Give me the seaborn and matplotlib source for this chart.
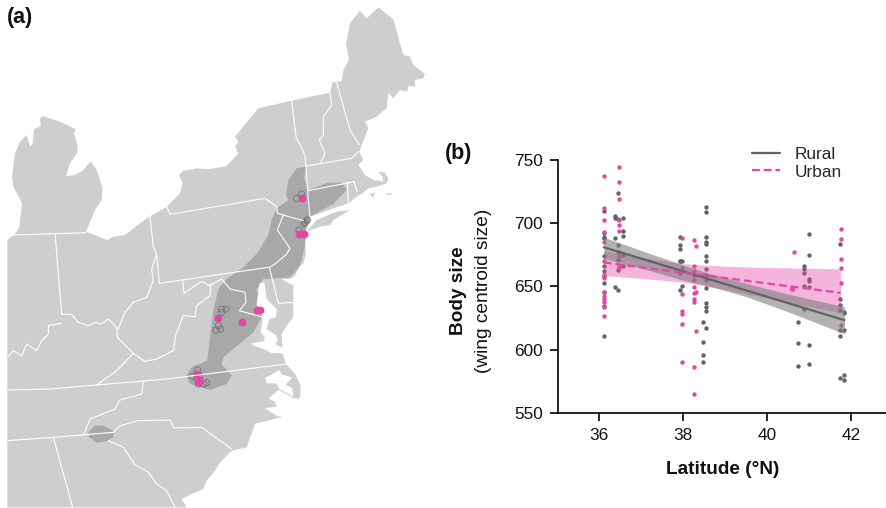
import matplotlib
matplotlib.use('Agg')
import matplotlib.pyplot as plt
import pandas as pd
import seaborn as sns

# scatter values, one list per group of sites
rural_lat = [36.11] * 12 + [36.37] * 4 + [36.44] * 7 + [36.56] * 5 + [37.93] * 7 + [37.98] * 2 + [38.48] * 4 + [38.54] * 15 \
    + [40.73] * 3 + [40.87] * 5 + [41.0] * 7 + [41.73] * 7 + [41.84] * 5
rural_size = [709.5, 692, 689.5, 688, 674, 666, 662.6, 658, 652.6, 645.5, 634.7, 611,
              706, 704, 688, 649.5,
              723.7, 703, 683, 677.6, 671, 663, 647,
              704.5, 694, 690, 675, 666,
              689.5, 683, 680, 670, 670, 660.5, 647,
              670, 650.5,
              621.6, 606, 596, 590.5,
              713, 708.7, 689, 685, 683.7, 674, 670, 664, 658.7, 655, 648.7, 637, 634, 631, 617.5,
              621.6, 605, 587,
              666, 663.7, 661, 650, 632.4,
              691.6, 675, 656, 654, 649.5, 603.5, 589,
              683.4, 640.5, 635, 631.6, 616, 611, 578,
              630, 629, 616, 580, 576]

urban_lat = [36.11] * 14 + [36.48] * 10 + [37.98] * 7 + [38.26] * 11 + [38.3] * 3 + [40.58] * 3 + [40.63] + [41.75] * 6
urban_size = [737.6, 712, 702.6, 693, 685, 670.5, 659, 656.5, 646, 642.6, 640, 637.4, 634, 627,
              744.7, 733, 719, 702.6, 699, 694, 677, 674, 666, 664.5,
              688, 664.5, 644, 631, 628.5, 620, 590,
              687, 666, 662, 658, 655, 649.5, 644.5, 640, 638, 586, 564.7,
              682, 645.5, 615,
              648, 648, 648.5,
              677.6,
              695.5, 687.6, 671.6, 664.5, 652.6, 619.5]

# fitted lines and their confidence bands
fit_lat = {'Rural': [36.11, 41.84], 'Urban': [36.11, 41.75]}
fit_size = {'Rural': [681, 623.4], 'Urban': [669, 645]}
rural_band_lat = [36.11, 37.0, 38.0, 38.6, 39.5, 40.5, 41.84]
rural_band_low = [672, 664.5, 655, 650.5, 642, 630, 612.6]
rural_band_high = [689, 678.5, 667, 660.5, 652.5, 644, 634]
urban_band_lat = [36.11, 37.0, 38.0, 39.0, 40.0, 41.75]
urban_band_low = [658.7, 656.5, 653.5, 647.5, 641, 629]
urban_band_high = [678.4, 673, 668, 666, 665, 664]

# map outlines, in units of a third of a pixel
land = [(22, 1522), (22, 720), (45, 702), (58, 680), (66, 610), (40, 560), (36, 530), (45, 460), (60, 425), (80, 405),
        (90, 440), (98, 430), (102, 388), (122, 378), (120, 355), (128, 348), (180, 365), (228, 388), (222, 400),
        (233, 440), (232, 458), (210, 490), (198, 528), (225, 525), (250, 510), (272, 484), (290, 510), (308, 565),
        (305, 600), (285, 630), (258, 695), (322, 720), (340, 710), (375, 705), (440, 655), (500, 620), (540, 580),
        (548, 550), (537, 525), (550, 512), (590, 505), (625, 508), (680, 498), (715, 460), (705, 440), (715, 425),
        (705, 410), (775, 325), (875, 302), (990, 278), (997, 248), (1025, 243), (1030, 210), (1047, 180), (1038, 130),
        (1050, 70), (1080, 32), (1100, 55), (1135, 22), (1180, 58), (1210, 165), (1230, 170), (1240, 195), (1275, 222),
        (1270, 235), (1245, 240), (1245, 260), (1225, 258), (1222, 275), (1200, 270), (1180, 295), (1165, 278),
        (1160, 325), (1130, 350), (1095, 365), (1105, 385), (1085, 435), (1078, 455), (1090, 480), (1075, 495),
        (1095, 525), (1120, 540), (1150, 545), (1148, 530), (1135, 515), (1155, 518), (1165, 535), (1160, 550),
        (1130, 560), (1105, 565), (1085, 582), (1070, 590), (1045, 610), (1000, 625), (960, 640), (930, 650), (918, 670),
        (918, 690), (915, 740), (918, 762), (910, 790), (900, 797), (885, 827), (870, 837), (845, 837), (880, 857),
        (880, 892), (880, 952), (860, 977), (845, 1002), (848, 1062), (858, 1092), (885, 1122), (902, 1157), (900, 1192),
        (860, 1232), (840, 1252), (765, 1272), (740, 1342), (695, 1352), (660, 1387), (645, 1412), (620, 1442),
        (610, 1467), (575, 1482), (545, 1497), (560, 1522)]
long_island = [(920, 695), (950, 660), (1010, 635), (1050, 630), (1000, 660), (990, 675), (960, 680)]
islands = [[(1110, 582), (1125, 578), (1118, 595)], [(1155, 580), (1178, 580), (1165, 587)]]
range_north = [(918, 500), (890, 505), (865, 540), (858, 585), (865, 600), (830, 625), (815, 660), (805, 705), (770, 762),
               (730, 802), (680, 837), (655, 867), (640, 932), (630, 1012), (622, 1082), (575, 1102), (558, 1127),
               (570, 1152), (630, 1170), (680, 1152), (695, 1127), (665, 1092), (670, 1072), (700, 1047), (760, 997),
               (790, 942), (790, 892), (768, 872), (790, 837), (870, 832), (900, 797), (915, 740), (918, 690), (930, 650),
               (1000, 612), (1040, 570), (1025, 548), (985, 548), (925, 570), (912, 535)]
range_south = [(265, 1297), (285, 1277), (310, 1277), (340, 1292), (340, 1312), (320, 1324), (290, 1328), (268, 1312)]
chesapeake = [(778, 850), (793, 847), (800, 897), (830, 927), (828, 952), (808, 957), (800, 987), (830, 1007), (833, 1022),
              (825, 1032), (860, 1050), (848, 1060), (815, 1059), (790, 1047), (755, 1034), (755, 1030), (790, 1024),
              (795, 1012), (782, 997), (788, 952), (770, 915)]
pamlico = [[(795, 1133), (813, 1125), (837, 1110), (845, 1123), (877, 1133), (857, 1153), (877, 1165), (880, 1190),
            (862, 1180), (838, 1168), (830, 1150), (800, 1150)],
           [(805, 1195), (835, 1170), (865, 1185), (880, 1195), (895, 1195), (870, 1225), (860, 1240), (835, 1250),
            (810, 1235), (795, 1225), (830, 1220), (825, 1205)]]
borders = [
    [(22, 706), (258, 698)],
    [(166, 705), (170, 762), (185, 942)],
    [(22, 1072), (40, 1052), (65, 1067), (80, 1032), (110, 1052), (125, 1022), (145, 1002), (145, 977), (185, 970)],
    [(185, 942), (215, 944), (235, 967), (265, 977), (285, 967), (305, 972), (325, 957), (355, 987), (375, 937),
     (400, 907), (440, 892), (460, 842), (455, 807), (470, 762), (460, 740), (450, 650)],
    [(470, 762), (478, 850), (805, 802)],
    [(500, 620), (510, 643), (795, 595), (830, 620), (832, 640), (910, 662)],
    [(850, 645), (832, 690), (870, 745), (860, 762), (825, 792), (808, 802), (835, 910), (880, 907)],
    [(875, 302), (888, 410), (915, 465), (918, 500), (925, 600), (930, 650)],
    [(918, 498), (1055, 475), (1075, 455)],
    [(925, 572), (1062, 545), (1072, 575)],
    [(1042, 548), (1045, 610)],
    [(990, 278), (995, 315), (970, 350), (970, 405), (958, 420), (975, 460), (962, 490)],
    [(1010, 248), (1050, 390), (1078, 435)],
    [(548, 840), (552, 880), (605, 844), (628, 857), (665, 837), (690, 867), (735, 877), (738, 907), (718, 932), (790, 952)],
    [(350, 987), (352, 1012), (400, 1060), (435, 1084), (470, 1077), (520, 1052), (528, 1002), (550, 947), (585, 950),
     (590, 917), (630, 887), (632, 854)],
    [(400, 1060), (350, 1112), (290, 1155)],
    [(22, 1170), (150, 1167), (290, 1155), (500, 1137), (700, 1112), (860, 1092)],
    [(430, 1144), (425, 1182), (360, 1200), (345, 1227), (270, 1257), (252, 1302)],
    [(22, 1322), (160, 1312), (340, 1297)],
    [(160, 1312), (218, 1522)],
    [(340, 1297), (360, 1277), (415, 1262), (510, 1260), (522, 1284), (605, 1282), (695, 1347)],
    [(325, 1322), (370, 1342), (405, 1394), (445, 1417), (470, 1452), (500, 1472), (525, 1522)],
]

# sampling sites on the map
urban_site_x = [905, 896, 912, 655, 726, 770, 779, 590, 596, 598]
urban_site_y = [595, 703, 702, 955, 967, 929, 929, 1121, 1145, 1140]
rural_site_x = [905, 890, 897, 920, 916, 922, 912, 665, 678, 665, 655, 648, 662, 593, 578, 600, 595, 612, 620, 590]
rural_site_y = [582, 596, 690, 662, 668, 660, 670, 927, 927, 937, 977, 990, 987, 1110, 1129, 1128, 1152, 1152, 1148, 1137]

LAND = '#cecece'
RANGE = '#a8a8a8'
GREY = '#636363'
PINK = '#e545a5'

sns.set_style('ticks')
plt.rcParams['font.family'] = ['Liberation Sans', 'DejaVu Sans']
plt.rcParams['axes.linewidth'] = 1.2

fig = plt.figure(figsize=(8.86, 5.08), dpi=100)

# panel (a)
m = fig.add_axes([0, 0, 1, 1])
m.fill(*zip(*land), color=LAND, lw=0)
m.fill(*zip(*long_island), color=LAND, lw=0)
for isl in islands:
    m.fill(*zip(*isl), color=LAND, lw=0)
m.fill(*zip(*range_north), color=RANGE, lw=0)
m.fill(*zip(*range_south), color=RANGE, lw=0)
m.fill(*zip(*chesapeake), color='white', lw=0)
for snd in pamlico:
    m.fill(*zip(*snd), color='white', lw=0)
for b in borders:
    m.plot(*zip(*b), color='white', lw=0.8, solid_joinstyle='round')
m.scatter(rural_site_x, rural_site_y, s=20, facecolors='none', edgecolors='#6a6a6a', linewidths=0.5)
sns.scatterplot(x=urban_site_x, y=urban_site_y, color=PINK, s=32, linewidth=0, ax=m)
m.set_xlim(0, 2658)
m.set_ylim(1524, 0)
m.axis('off')

# panel (b)
ax = fig.add_axes([558 / 886, (508 - 413) / 508, 328 / 886, 253 / 508])
ax.patch.set_alpha(0)
sns.scatterplot(x=rural_lat, y=rural_size, color=GREY, s=10, linewidth=0, ax=ax, zorder=1)
sns.scatterplot(x=urban_lat, y=urban_size, color=PINK, s=10, linewidth=0, ax=ax, zorder=1)
ax.fill_between(urban_band_lat, urban_band_low, urban_band_high, color=PINK, alpha=0.4, lw=0, zorder=2)
ax.fill_between(rural_band_lat, rural_band_low, rural_band_high, color='#7f7f7f', alpha=0.6, lw=0, zorder=2)

fits = pd.DataFrame({
    'lat': fit_lat['Rural'] + fit_lat['Urban'],
    'size': fit_size['Rural'] + fit_size['Urban'],
    'habitat': ['Rural', 'Rural', 'Urban', 'Urban'],
})
sns.lineplot(data=fits, x='lat', y='size', hue='habitat', style='habitat', palette={'Rural': GREY, 'Urban': PINK},
             dashes={'Rural': '', 'Urban': (3.5, 1.8)}, lw=1.6, errorbar=None, ax=ax, zorder=3)

ax.set_xlim(35.02, 42.83)
ax.set_ylim(550, 750)
ax.set_xticks([36, 38, 40, 42])
ax.set_yticks([550, 600, 650, 700, 750])
ax.tick_params(labelsize=12.4, length=6, width=1.2, color='black', labelcolor='#111111', pad=5)
for s in ('top', 'right'):
    ax.spines[s].set_visible(False)
for s in ('left', 'bottom'):
    ax.spines[s].set_color('black')
ax.set_xlabel('')
ax.set_ylabel('')

handles, labels = ax.get_legend_handles_labels()
ax.legend(handles, labels, frameon=False, fontsize=12.4, loc='upper left', bbox_to_anchor=(0.591, 1.05),
          handlelength=1.63, handletextpad=0.85, labelspacing=0.12, borderpad=0, borderaxespad=0)

fig.text(723 / 886, 1 - 469 / 508, 'Latitude (°N)', fontsize=13.7, fontweight='bold', ha='center', va='center', color='#111111')
fig.text(459 / 886, 1 - 291 / 508, 'Body size', fontsize=13.7, fontweight='bold', rotation=90, ha='center', va='center', color='#111111')
fig.text(483 / 886, 1 - 291 / 508, '(wing centroid size)', fontsize=13.8, rotation=90, ha='center', va='center', color='#111111')
fig.text(7 / 886, 1 - 17 / 508, '(a)', fontsize=15.5, fontweight='bold', va='center', color='#111111')
fig.text(445 / 886, 1 - 153 / 508, '(b)', fontsize=15.5, fontweight='bold', va='center', color='#111111')

fig.savefig('out.png', dpi=100)
